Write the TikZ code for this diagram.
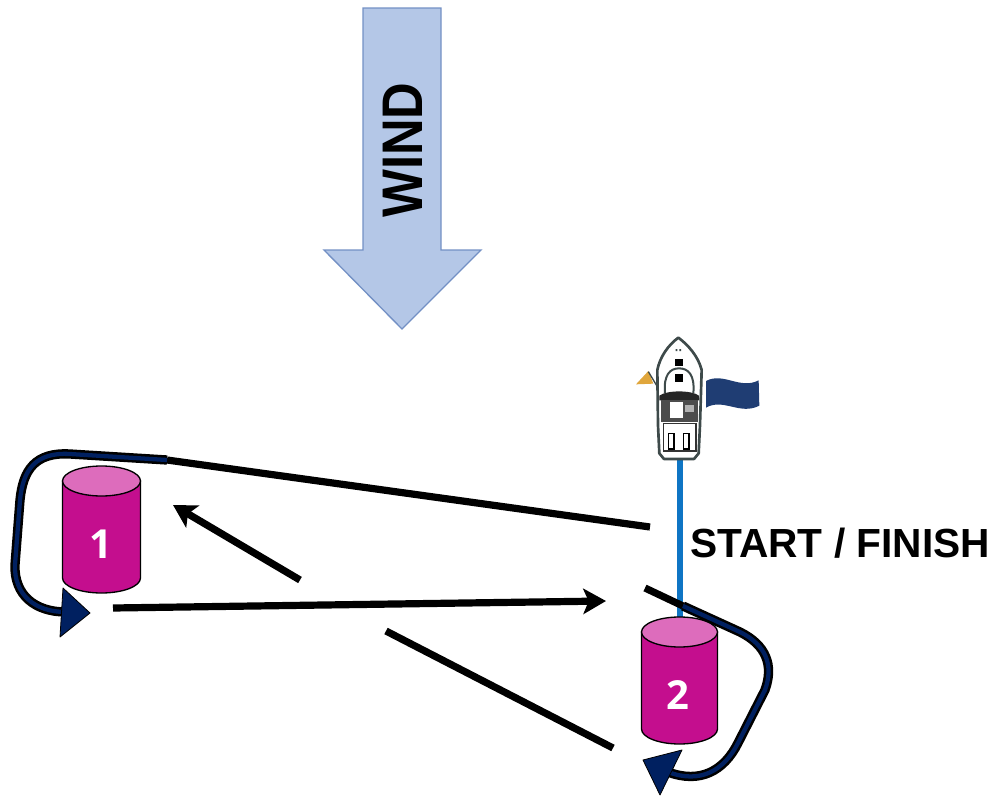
\documentclass[tikz,border=0pt]{standalone}
\usepackage{fontspec}
\setmainfont{Liberation Sans}
\newfontfamily\buoyfont{Open Sans}
\usetikzlibrary{arrows.meta}
\definecolor{windfill}{HTML}{B4C7E7}
\definecolor{windedge}{HTML}{7390C4}
\definecolor{buoybody}{HTML}{C40E8E}
\definecolor{buoytop}{HTML}{DD6CBC}
\definecolor{routenavy}{HTML}{002060}
\definecolor{lineblue}{HTML}{0F75C4}
\definecolor{flagnavy}{HTML}{1F3D73}
\definecolor{pennant}{HTML}{E0A63C}
\definecolor{hulledge}{HTML}{3E4A4A}
\tikzset{
  course/.style={draw=black,line width=5.4pt},
  courseedge/.style={draw=black,line width=7pt},
  coursecore/.style={draw=routenavy,line width=3.2pt},
  coursetip/.style={fill=routenavy,draw=black,line width=.6pt,line join=round},
  leg/.style={course,-{Stealth[length=17pt,width=19pt,inset=4pt]}},
  buoyedge/.style={draw=black,line width=1pt},
  buoylabel/.style={text=white,font=\buoyfont\bfseries\fontsize{30}{31}\selectfont,inner sep=0pt},
  caption/.style={font=\bfseries\fontsize{30.5}{32}\selectfont,inner sep=0pt,text=black}
}
% centre x, top-end y, bottom-end y, x radius
\newcommand{\buoydrum}[4]{%
  \draw[buoyedge,fill=buoybody] (#1-#4,#2) -- (#1-#4,#3)
    arc[start angle=180,end angle=0,x radius=#4,y radius=15]
    -- (#1+#4,#2) -- cycle;
  \draw[buoyedge,fill=buoytop] (#1,#2) ellipse[x radius=#4,y radius=15];
}
\begin{document}
\begin{tikzpicture}[x=.75pt,y=-.75pt]
\useasboundingbox (0,0) rectangle (1001,796);
% wind arrow
\draw[fill=windfill,draw=windedge,line width=1pt,line join=miter]
  (363,8) -- (441,8) -- (441,250) -- (481,250) -- (402,329) -- (324,250) -- (363,250) -- cycle;
\node[rotate=90,yscale=1.13,inner sep=0pt,font=\bfseries\fontsize{38}{40}\selectfont] (wind) at (403,150) {WIND};
% start line
\coordinate (lineTop) at (680,458);
\coordinate (lineBottom) at (680,622);
\draw[lineblue,line width=4.4pt] (lineTop) -- (lineBottom);
% named route points
\coordinate (startA) at (650,527);
\coordinate (turnA) at (167,460);
\coordinate (endA) at (66,612);
\coordinate (startB) at (645,588);
\coordinate (turnB) at (683,606);
\coordinate (endB) at (668,772);
\coordinate (legAfrom) at (300,580);
\coordinate (legAto) at (173,505);
\coordinate (legBfrom) at (113,608);
\coordinate (legBto) at (606,601);
\coordinate (legCfrom) at (386,631);
\coordinate (legCto) at (613,748);
% black straight legs
\draw[course] (startA) -- (turnA);
\draw[leg] (legAfrom) -- (legAto);
\draw[leg] (legBfrom) -- (legBto);
\draw[course] (legCfrom) -- (legCto);
\draw[course] (startB) -- (turnB);
% rounding marks
\def\roundA{(turnA) -- (70,454) .. controls (35,452) and (23,470) .. (20,500) -- (15,565) .. controls (14,595) and (35,612) .. (endA)}
\def\roundB{(turnB) -- (740,632) .. controls (766,645) and (774,665) .. (765,690) -- (738,743) .. controls (724,771) and (700,784) .. (endB)}
\draw[courseedge] \roundA;
\draw[coursecore] \roundA;
\draw[courseedge] \roundB;
\draw[coursecore] \roundB;
\draw[coursetip] (63,588) -- (90,613) -- (60,637) -- cycle;
\draw[coursetip] (643,760) -- (682,750) -- (660,795) -- cycle;
% buoys
\buoydrum{101.5}{481}{578}{39}
\node[buoylabel] (labelA) at (101,544) {1};
\buoydrum{679.5}{632}{729}{38}
\node[buoylabel] (labelB) at (678,695) {2};
% caption
\node[caption,anchor=west] (startfinish) at (690,543) {START / FINISH};
% flag, pennant and boat
\begin{scope}[shift={(620,325)},x=.25pt,y=-.25pt]
  \fill[flagnavy] (258,168) .. controls (310,140) and (360,195) .. (416,166)
    -- (418,242) .. controls (360,272) and (310,218) .. (258,248) -- cycle;
  \fill[pennant] (48,178) -- (85,138) -- (100,176) -- cycle;
  \draw[hulledge,line width=1pt] (85,140) -- (118,195);
  \draw[fill=white,draw=hulledge,line width=2pt,line join=round]
    (175,38) .. controls (145,60) and (120,95) .. (112,135)
    -- (114,300) -- (118,385) -- (132,402) -- (222,402) -- (236,385) -- (240,300)
    -- (245,135) .. controls (235,95) and (205,60) .. (175,38) -- cycle;
  \fill[black] (165,103) rectangle (190,122);
  \fill[black] (165,148) rectangle (190,172);
  \fill[hulledge] (167,72) rectangle (172,78) (178,72) rectangle (183,78);
  \draw[hulledge,line width=1.5pt] (135,205) .. controls (130,150) and (150,130) .. (177,130)
    .. controls (205,130) and (225,150) .. (220,205);
  \fill[black!85] (118,212) .. controls (140,195) and (215,195) .. (237,212) -- (237,226) -- (118,226) -- cycle;
  \fill[black!70] (122,226) rectangle (234,290);
  \fill[white] (150,232) rectangle (190,278);
  \fill[black!30] (195,240) rectangle (222,262);
  \fill[white] (130,290) rectangle (228,295);
  \draw[black!80,line width=1pt] (130,295) rectangle (228,378);
  \draw[black,fill=white,line width=.8pt] (145,325) rectangle (162,372);
  \draw[black,fill=white,line width=.8pt] (190,325) rectangle (207,372);
\end{scope}
\end{tikzpicture}
\end{document}
